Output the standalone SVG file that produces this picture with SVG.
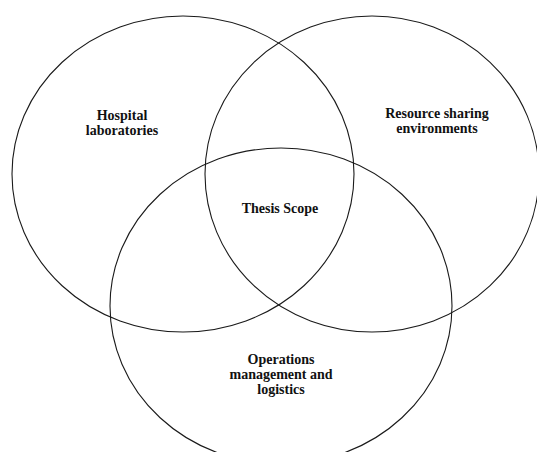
<svg xmlns="http://www.w3.org/2000/svg" width="537" height="452" viewBox="0 0 537 452">
<style>
.c{fill:none;stroke:#1a1a1a;stroke-width:1.1}
.t{font-family:"Liberation Serif","Times New Roman",serif;font-weight:bold;font-size:14px;fill:#111;text-anchor:middle}
</style>
<rect width="537" height="452" fill="#fff"/>
<g id="hospital">
<ellipse class="c" cx="183" cy="174" rx="171" ry="158"/>
<text class="t" x="122" y="120">Hospital</text>
<text class="t" x="122" y="135">laboratories</text>
</g>
<g id="resource">
<ellipse class="c" cx="372" cy="174" rx="167" ry="158"/>
<text class="t" x="437" y="118">Resource sharing</text>
<text class="t" x="437" y="133">environments</text>
</g>
<g id="operations">
<ellipse class="c" cx="281" cy="306" rx="171" ry="158"/>
<text class="t" x="281" y="364">Operations</text>
<text class="t" x="281" y="379">management and</text>
<text class="t" x="281" y="394">logistics</text>
</g>
<g id="scope">
<text class="t" x="280" y="213">Thesis Scope</text>
</g>
<g id="connectors"></g>
</svg>
